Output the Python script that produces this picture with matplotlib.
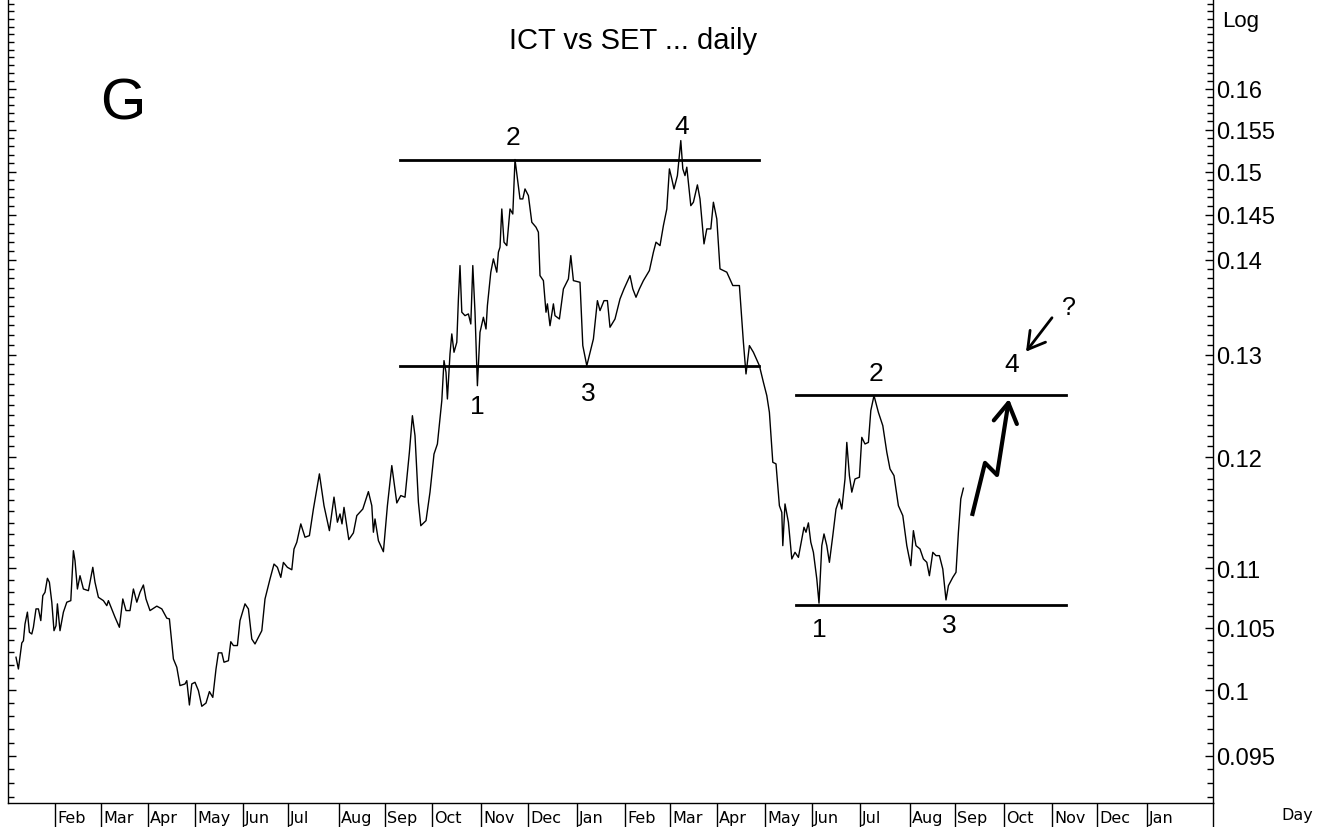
import numpy as np
import matplotlib
matplotlib.use('Agg')
import matplotlib.pyplot as plt
import matplotlib.transforms as mtransforms
from matplotlib.lines import Line2D
from matplotlib.ticker import FixedLocator, FixedFormatter, NullFormatter

# ---------------- data ----------------
# trading-day index and ICT/SET ratio
day = [4.0, 5.2, 6.4, 6.9, 7.7, 8.5, 9.7, 10.7, 11.9, 12.7, 14.0, 15.2, 16.4, 17.4, 18.5, 19.7,
       20.7, 21.9, 23.0, 24.0, 24.7, 26.0, 27.7, 29.4, 31.4, 32.7, 33.5, 34.7, 36.0, 37.7, 40.2,
       42.4, 43.5, 45.2, 47.7, 49.4, 50.2, 53.5, 55.7, 57.4, 59.0, 61.0, 62.7, 64.4, 66.0, 67.7,
       69.0, 71.0, 74.4, 76.9, 79.4, 80.7, 81.9, 82.7, 84.4, 86.0, 88.5, 89.4, 90.7, 91.9, 93.5,
       95.2, 96.9, 99.0, 100.7, 102.4, 104.0, 105.2, 106.9, 108.0, 110.2, 111.4, 112.7, 114.7,
       116.0, 118.5, 120.2, 121.9, 123.5, 126.9, 128.5, 131.0, 133.0, 134.7, 136.4, 137.7, 139.7,
       141.9, 143.0, 144.4, 146.4, 148.5, 150.7, 152.7, 155.7, 158.0, 160.7, 163.0, 164.7, 166.0,
       167.0, 168.0, 170.4, 172.7, 174.4, 177.4, 180.2, 181.9, 182.7, 183.5, 185.2, 187.7, 189.7,
       191.9, 194.4, 196.4, 198.5, 200.7, 202.2, 203.5, 205.2, 206.4, 209.0, 211.0, 213.0, 214.7,
       216.9, 218.0, 219.0, 219.7, 221.0, 221.9, 223.0, 224.4, 225.2, 226.0, 226.9, 228.5, 230.2,
       231.4, 232.4, 233.5, 234.7, 235.2, 236.0, 237.7, 239.0, 239.7, 241.4, 242.7, 244.4, 245.2,
       246.0, 246.9, 248.0, 249.4, 251.0, 252.4, 253.5, 254.4, 256.0, 257.4, 258.5, 260.2, 261.9,
       264.0, 265.2, 266.0, 267.7, 269.0, 269.7, 271.0, 272.7, 273.5, 275.7, 277.7, 280.2, 281.4,
       282.7, 286.0, 287.4, 289.4, 292.7, 294.7, 296.0, 298.0, 299.7, 301.0, 303.5, 306.0, 308.0,
       311.0, 312.4, 314.0, 315.7, 317.7, 320.7, 322.7, 324.0, 326.0, 327.7, 329.4, 330.7, 331.9,
       333.0, 334.7, 336.4, 337.4, 338.5, 339.4, 341.4, 342.7, 344.7, 346.0, 348.0, 349.4, 351.4,
       352.7, 354.4, 356.0, 359.4, 362.4, 365.7, 367.7, 369.0, 370.7, 372.7, 375.7, 377.7, 379.4,
       380.7, 382.4, 384.0, 385.7, 386.9, 387.4, 388.5, 390.2, 391.9, 393.5, 395.2, 396.9, 398.0,
       399.0, 400.2, 401.4, 402.7, 404.4, 405.5, 406.9, 408.0, 409.4, 410.7, 412.4, 414.0, 415.7,
       416.9, 418.5, 419.4, 420.7, 421.9, 423.5, 425.7, 426.9, 428.5, 430.2, 431.4, 433.0, 435.2,
       437.4, 439.4, 441.0, 443.0, 445.2, 447.4, 449.4, 451.4, 452.7, 454.0, 456.0, 457.7, 459.4,
       460.7, 462.4, 464.0, 465.7, 467.4, 469.0, 470.2, 472.4, 474.0, 475.2, 476.4, 477.7]

ratio = [0.10262, 0.10168, 0.10315, 0.10377, 0.10395, 0.10532, 0.10630, 0.10464, 0.10450, 0.10505,
         0.10657, 0.10657, 0.10560, 0.10768, 0.10796, 0.10915, 0.10881, 0.10713, 0.10477, 0.10518,
         0.10699, 0.10477, 0.10630, 0.10713, 0.10726, 0.11153, 0.11066, 0.10824, 0.10937, 0.10824,
         0.10810, 0.11009, 0.10881, 0.10754, 0.10726, 0.10684, 0.10726, 0.10588, 0.10505, 0.10740,
         0.10643, 0.10643, 0.10824, 0.10713, 0.10796, 0.10858, 0.10740, 0.10643, 0.10680, 0.10657,
         0.10580, 0.10574, 0.10382, 0.10248, 0.10182, 0.10037, 0.10050, 0.10076, 0.09886, 0.10050,
         0.10063, 0.09998, 0.09876, 0.09901, 0.09990, 0.09945, 0.10168, 0.10297, 0.10297, 0.10222,
         0.10234, 0.10387, 0.10356, 0.10356, 0.10560, 0.10699, 0.10657, 0.10409, 0.10369, 0.10477,
         0.10740, 0.10909, 0.11037, 0.11009, 0.10923, 0.11051, 0.11009, 0.10988, 0.11168, 0.11227,
         0.11389, 0.11271, 0.11285, 0.11522, 0.11843, 0.11552, 0.11329, 0.11630, 0.11404, 0.11478,
         0.11389, 0.11537, 0.11250, 0.11309, 0.11463, 0.11522, 0.11680, 0.11552, 0.11315, 0.11433,
         0.11241, 0.11144, 0.11552, 0.11920, 0.11577, 0.11644, 0.11629, 0.12045, 0.12394, 0.12202,
         0.11584, 0.11373, 0.11418, 0.11675, 0.12028, 0.12123, 0.12540, 0.12939, 0.12822, 0.12557,
         0.13007, 0.13212, 0.13024, 0.13126, 0.13578, 0.13937, 0.13438, 0.13402, 0.13420, 0.13315,
         0.13937, 0.13438, 0.12688, 0.12888, 0.13229, 0.13385, 0.13263, 0.13508, 0.13865, 0.14010,
         0.13865, 0.14083, 0.14138, 0.14567, 0.14194, 0.14156, 0.14567, 0.14510, 0.15141, 0.14972,
         0.14682, 0.14682, 0.14797, 0.14720, 0.14417, 0.14361, 0.14305, 0.13828, 0.13774, 0.13438,
         0.13526, 0.13297, 0.13526, 0.13402, 0.13367, 0.13685, 0.13792, 0.14046, 0.13774, 0.13756,
         0.13092, 0.12888, 0.13160, 0.13560, 0.13455, 0.13560, 0.13560, 0.13281, 0.13367, 0.13578,
         0.13685, 0.13828, 0.13685, 0.13596, 0.13685, 0.13774, 0.13883, 0.14083, 0.14194, 0.14156,
         0.14379, 0.14567, 0.15031, 0.14914, 0.14797, 0.14952, 0.15367, 0.15031, 0.14952, 0.15051,
         0.14605, 0.14644, 0.14844, 0.14682, 0.14175, 0.14342, 0.14342, 0.14644, 0.14454, 0.13901,
         0.13865, 0.13721, 0.13721, 0.13126, 0.12805, 0.13092, 0.13024, 0.12888, 0.12722, 0.12590,
         0.12426, 0.11951, 0.11936, 0.11552, 0.11492, 0.11197, 0.11568, 0.11404, 0.11081, 0.11139,
         0.11095, 0.11256, 0.11359, 0.11315, 0.11398, 0.11227, 0.11139, 0.10909, 0.10705, 0.11197,
         0.11300, 0.11197, 0.11052, 0.11285, 0.11522, 0.11614, 0.11522, 0.11796, 0.12138, 0.11827,
         0.11675, 0.11796, 0.11812, 0.12186, 0.12123, 0.12138, 0.12443, 0.12590, 0.12426, 0.12298,
         0.12045, 0.11889, 0.11827, 0.11552, 0.11463, 0.11197, 0.11023, 0.11329, 0.11197, 0.11168,
         0.11081, 0.11052, 0.10937, 0.11139, 0.11110, 0.11110, 0.10994, 0.10732, 0.10852, 0.10923,
         0.10966, 0.11315, 0.11614, 0.11711]

month_names = ['Feb', 'Mar', 'Apr', 'May', 'Jun', 'Jul', 'Aug', 'Sep', 'Oct', 'Nov', 'Dec', 'Jan',
               'Feb', 'Mar', 'Apr', 'May', 'Jun', 'Jul', 'Aug', 'Sep', 'Oct', 'Nov', 'Dec', 'Jan']
month_start = [23.5, 46.5, 70, 93.5, 117.5, 140, 165.5, 188.5, 212, 236.5, 260, 284.5,
               308.5, 331, 354.5, 378.5, 402, 426, 451, 473.5, 498, 522, 544.5, 569.5]

ytick_vals = [0.095, 0.1, 0.105, 0.11, 0.12, 0.13, 0.14, 0.145, 0.15, 0.155, 0.16]
ytick_labels = ['0.095', '0.1', '0.105', '0.11', '0.12', '0.13', '0.14', '0.145', '0.15', '0.155', '0.16']

# pattern boundary lines
levels_left = [0.1514, 0.1288]
levels_right = [0.1260, 0.1069]
span_left = [196, 375.5]
span_right = [394, 529]

# wave labels: (label, day, level)
wave_labels = [('1', 234.5, 0.1249), ('2', 252.5, 0.1541), ('3', 290, 0.1262), ('4', 337, 0.1554),
               ('1', 405.5, 0.1049), ('2', 434, 0.1281), ('3', 470.5, 0.1052), ('4', 502, 0.1290)]

# projected path (hand drawn arrow)
proj_day = [482, 488.5, 494.5, 500.5]
proj_val = [0.1146, 0.11945, 0.11833, 0.12557]

# ---------------- figure ----------------
plt.rcParams['font.family'] = ['Liberation Sans', 'DejaVu Sans']
W, H = 1333, 828
fig = plt.figure(figsize=(W / 100, H / 100), dpi=100)
ax = fig.add_axes([8 / W, 24 / H, 1205 / W, 804 / H])

ax.plot(day, ratio, color='black', lw=1.0)

ax.set_yscale('log')
ax.set_ylim(0.09157, 0.17165)
ax.set_xlim(0, 602.5)

ax.yaxis.set_major_locator(FixedLocator(ytick_vals))
ax.yaxis.set_major_formatter(FixedFormatter(ytick_labels))
ax.yaxis.set_minor_locator(FixedLocator(np.arange(0.092, 0.1715, 0.001)))
ax.yaxis.set_minor_formatter(NullFormatter())
ax.tick_params(axis='y', which='both', left=True, right=True, labelleft=False,
               labelright=True, direction='in', width=1, colors='black')
ax.tick_params(axis='y', which='major', length=6, labelsize=17, pad=2)
ax.tick_params(axis='y', which='minor', length=4)

ax.spines['top'].set_visible(False)
for s in ['left', 'right', 'bottom']:
    ax.spines[s].set_linewidth(1.0)

ax.set_xticks(month_start)
ax.set_xticklabels([])
ax.tick_params(axis='x', which='major', direction='out', length=17, width=1)
ax.xaxis.set_minor_locator(FixedLocator([]))

trans = mtransforms.blended_transform_factory(ax.transData, ax.transAxes)
for m, n in zip(month_start, month_names):
    ax.text(m + 1.0, -0.018, n, transform=trans, ha='left', va='center',
            fontsize=11.5, family='DejaVu Sans', clip_on=False)

# right spine extends below the axis
fig.add_artist(Line2D([1213 / W, 1213 / W], [0, 24 / H], color='black', lw=1.0,
                      transform=fig.transFigure))

fig.text(1297 / W, 1 - 816 / H, 'Day', ha='center', va='center', fontsize=11.5, family='DejaVu Sans')
fig.text(1222 / W, 1 - 21 / H, 'Log', ha='left', va='center', fontsize=16)
fig.text(633 / W, 1 - 41 / H, 'ICT vs SET ... daily', ha='center', va='center', fontsize=21)
fig.text(123 / W, 1 - 104 / H, 'G', ha='center', va='center', fontsize=42)

# horizontal pattern lines
for lv in levels_left:
    ax.plot(span_left, [lv, lv], color='black', lw=2)
for lv in levels_right:
    ax.plot(span_right, [lv, lv], color='black', lw=2)

for lab, x, y in wave_labels:
    ax.text(x, y, lab, ha='center', va='center', fontsize=19)

ax.text(530.5, 0.1349, '?', ha='center', va='center', fontsize=18)
ax.annotate('', xy=(509, 0.1303), xytext=(522, 0.1338),
            arrowprops=dict(arrowstyle='->,head_length=0.6,head_width=0.35', lw=2.0,
                            color='black', mutation_scale=20, shrinkA=0, shrinkB=0))

ax.plot(proj_day[:-1], proj_val[:-1], color='black', lw=3, solid_capstyle='butt')
ax.annotate('', xy=(proj_day[-1], proj_val[-1]), xytext=(proj_day[-2], proj_val[-2]),
            arrowprops=dict(arrowstyle='->,head_length=0.5,head_width=0.3', lw=3,
                            color='black', mutation_scale=28, shrinkA=0, shrinkB=0))

fig.savefig('out.png', dpi=100)
